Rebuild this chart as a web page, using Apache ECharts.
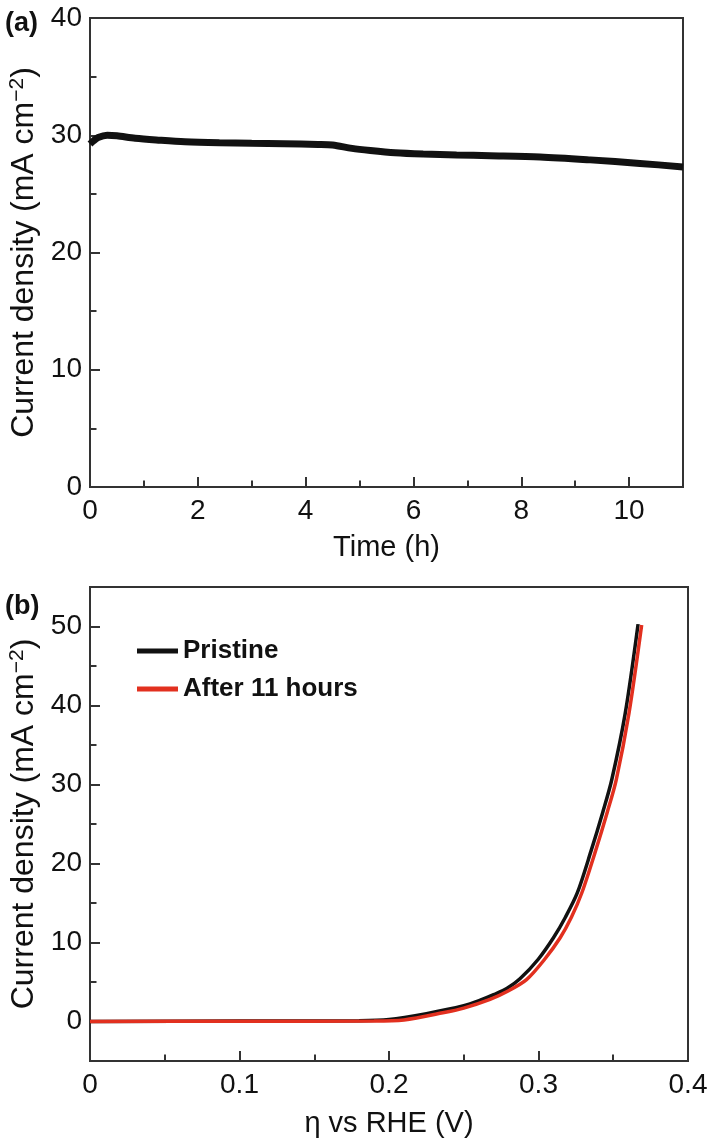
<!DOCTYPE html>
<html>
<head>
<meta charset="utf-8">
<script src="https://cdn.jsdelivr.net/npm/echarts@6/dist/echarts.min.js"></script>
<style>
  html, body { margin: 0; padding: 0; background: #fff; }
  #chart { width: 711px; height: 1141px; }
</style>
</head>
<body>
<div id="chart"></div>
<script>
// (a) stabilite dans le temps
const timeH = [0, 0.06, 0.15, 0.32, 0.5, 0.84, 1.3, 1.76, 2.4, 3.0, 3.6, 4.23, 4.5, 4.86, 5.2, 5.66, 6.18, 6.8, 7.42, 8.35, 9.28, 10.2, 11];
const currentA = [29.25, 29.5, 29.8, 30.0, 29.95, 29.74, 29.58, 29.45, 29.36, 29.31, 29.27, 29.22, 29.17, 28.88, 28.7, 28.51, 28.4, 28.32, 28.26, 28.15, 27.9, 27.6, 27.3];

// (b) courbes de polarisation
const etaPristine = [0, 0.1, 0.18, 0.2, 0.225, 0.25, 0.261, 0.27, 0.279, 0.2876, 0.2997, 0.31, 0.318, 0.326, 0.335, 0.343, 0.349, 0.358, 0.3666];
const jPristine   = [0, 0.05, 0.1, 0.25, 1.0, 2.0, 2.7, 3.4, 4.2, 5.4, 7.85, 10.6, 13.2, 16.3, 21.5, 26.5, 30.6, 39, 50.3];
const etaAfter = [0, 0.1, 0.19, 0.21, 0.236, 0.25, 0.2676, 0.279, 0.292, 0.304, 0.3145, 0.322, 0.329, 0.338, 0.346, 0.352, 0.3605, 0.369];
const jAfter   = [0, 0.03, 0.05, 0.2, 1.1, 1.7, 2.8, 3.8, 5.3, 7.85, 10.6, 13.2, 16.3, 21.5, 26.5, 30.6, 39, 50.2];

// graduations
const topXMajor = [0, 2, 4, 6, 8, 10];
const topXMinor = [1, 3, 5, 7, 9];
const topYMajor = [0, 10, 20, 30, 40];
const topYMinor = [5, 15, 25, 35];
const botXMajor = [0, 0.1, 0.2, 0.3, 0.4];
const botXMinor = [0.05, 0.15, 0.25, 0.35];
const botYMajor = [0, 10, 20, 30, 40, 50];
const botYMinor = [5, 15, 25, 35, 45];

const FONT = 'Liberation Sans, Arial, sans-serif';
const AXIS_COLOR = '#333';
const TXT = '#111';

const chart = echarts.init(document.getElementById('chart'));

function zip(xs, ys) { return xs.map((x, i) => [x, ys[i]]); }

const yName = 'Current density (mA cm{sup|\u22122})';
const yNameStyle = {
    fontSize: 32, color: TXT, fontFamily: FONT,
    rich: { sup: { fontSize: 21, color: TXT, fontFamily: FONT, verticalAlign: 'top', padding: [0, 0, 14, 0] } }
};

function mainAxis(grid, min, max, major, name, gap, isY) {
    return {
        type: 'value', gridIndex: grid, min: min, max: max,
        position: isY ? 'left' : 'bottom',
        name: name, nameLocation: 'middle', nameGap: gap,
        nameTextStyle: isY ? yNameStyle : { fontSize: 29, color: TXT, fontFamily: FONT },
        axisLine: { show: true, onZero: false, lineStyle: { color: AXIS_COLOR, width: 2 } },
        axisTick: { show: true, inside: true, length: 10, customValues: major, lineStyle: { color: AXIS_COLOR, width: 2 } },
        axisLabel: { customValues: major, margin: isY ? 8 : 10, fontSize: 28, color: TXT, fontFamily: FONT },
        splitLine: { show: false }
    };
}
function minorAxis(grid, min, max, minor, isY) {
    return {
        type: 'value', gridIndex: grid, min: min, max: max,
        position: isY ? 'left' : 'bottom',
        axisLine: { show: false, onZero: false },
        axisTick: { show: true, inside: true, length: 6.5, customValues: minor, lineStyle: { color: AXIS_COLOR, width: 2 } },
        axisLabel: { show: false },
        splitLine: { show: false }
    };
}

const options = {
    animation: false,
    backgroundColor: '#fff',
    title: [
        { text: '(a)', left: 0, top: 5, textStyle: { fontSize: 27, fontWeight: 'bold', color: TXT, fontFamily: FONT } },
        { text: '(b)', left: 0, top: 588, textStyle: { fontSize: 27, fontWeight: 'bold', color: TXT, fontFamily: FONT } }
    ],
    grid: [
        { left: 90, top: 18, right: 28, bottom: 654, outerBoundsMode: 'none', show: true, borderColor: AXIS_COLOR, borderWidth: 2, backgroundColor: 'transparent' },
        { left: 90, top: 587, right: 23, bottom: 80, outerBoundsMode: 'none', show: true, borderColor: AXIS_COLOR, borderWidth: 2, backgroundColor: 'transparent' }
    ],
    legend: {
        orient: 'vertical', left: 132, top: 633,
        icon: 'rect', itemWidth: 41, itemHeight: 5, itemGap: 12,
        textStyle: { fontSize: 26, fontWeight: 'bold', color: TXT, fontFamily: FONT },
        data: ['Pristine', 'After 11 hours']
    },
    xAxis: [
        mainAxis(0, 0, 11, topXMajor, 'Time (h)', 46, false),
        minorAxis(0, 0, 11, topXMinor, false),
        mainAxis(1, 0, 0.4, botXMajor, '\u03b7 vs RHE (V)', 48, false),
        minorAxis(1, 0, 0.4, botXMinor, false)
    ],
    yAxis: [
        mainAxis(0, 0, 40, topYMajor, yName, 42, true),
        minorAxis(0, 0, 40, topYMinor, true),
        mainAxis(1, -5, 55, botYMajor, yName, 42, true),
        minorAxis(1, -5, 55, botYMinor, true)
    ],
    series: [
        {
            name: 'Stability', type: 'line', xAxisIndex: 0, yAxisIndex: 0,
            data: zip(timeH, currentA), smooth: 0.3, symbol: 'none',
            lineStyle: { color: '#111', width: 7 }
        },
        {
            name: 'Pristine', type: 'line', xAxisIndex: 2, yAxisIndex: 2,
            data: zip(etaPristine, jPristine), smooth: 0.3, symbol: 'none',
            lineStyle: { color: '#111', width: 3.5 }, itemStyle: { color: '#111' }
        },
        {
            name: 'After 11 hours', type: 'line', xAxisIndex: 2, yAxisIndex: 2,
            data: zip(etaAfter, jAfter), smooth: 0.3, symbol: 'none',
            lineStyle: { color: '#e2301f', width: 3.5 }, itemStyle: { color: '#e2301f' }
        }
    ]
};

chart.setOption(options);
window.addEventListener('resize', () => chart.resize());
</script>
</body>
</html>
